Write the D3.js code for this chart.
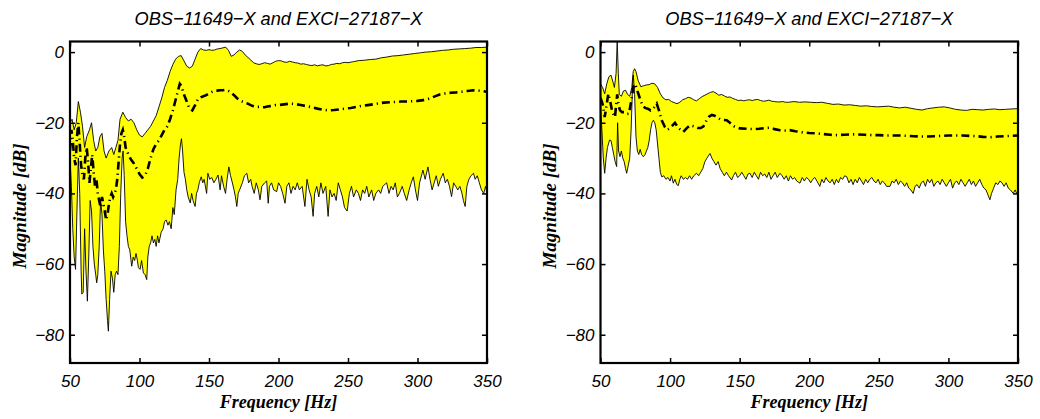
<!DOCTYPE html>
<html><head><meta charset="utf-8">
<script src="https://cdn.jsdelivr.net/npm/d3@7"></script>
<style>
body{margin:0;background:#fff;}
svg{display:block;}
.tick text{font-family:"Liberation Sans",Arial,sans-serif;font-style:italic;font-size:17px;}
</style></head><body>
<svg id="chart" width="1040" height="419"></svg>
<script>
// ---------- data ----------
const titles = ["OBS\u221211649\u2212X and EXCI\u221227187\u2212X", "OBS\u221211649\u2212X and EXCI\u221227187\u2212X"];
const xTicks = [50,100,150,200,250,300,350];
const yTicks = [0,-20,-40,-60,-80];
const xLabel = "Frequency [Hz]";
const yLabel = "Magnitude [dB]";

// Left panel: [frequency Hz, magnitude dB]
const leftUpper = [[50,-20],[51.5,-19],[53,-22],[54.5,-20],[56,-14],[57.5,-17],[59,-21],[60.5,-27],[62,-24],[64,-22],[65.5,-20],[67,-25],[68.5,-28],[70,-27],[71.5,-24],[73,-23],[74.5,-28],[76,-30],[78,-28],[80,-27],[81.5,-29],[83,-27],[84.5,-25],[86,-19],[88,-17],[90,-18.5],[92,-19.5],[94,-19],[96,-20],[98,-22],[100,-23.5],[102,-24],[104,-23],[106,-22],[108,-21],[110,-19.5],[112,-18],[114,-15.5],[116,-13],[118,-10],[120,-8],[122,-5.5],[124,-3.5],[126,-2],[128,-1.2],[130,-1],[132,-2.5],[134,-4],[136,-4.5],[138,-4],[140,-2],[142,0],[144,1],[146,0.6],[148,0.5],[150,0.7],[152,0.5],[154,0.6],[156,0.9],[158,1],[160,1.2],[162,1.4],[164,0.5],[166,-1.2],[168,-0.8],[170,0],[172,0.6],[174,0.2],[176,-0.8],[178,-1.5],[180,-2.2],[182,-3],[184,-3.3],[186,-3.5],[188,-3.3],[190,-3],[192,-3.2],[194,-3.4],[196,-3],[198,-2.6],[200,-2.4],[202,-2.5],[204,-2.8],[206,-2.9],[208,-2.6],[210,-2.8],[212,-3],[214,-3.1],[216,-3.4],[218,-3.3],[220,-3.5],[222,-3.7],[224,-3.8],[226,-3.6],[228,-3.9],[230,-3.7],[232,-3.6],[234,-3.9],[236,-3.8],[238,-3.5],[240,-3.4],[242,-3.2],[244,-3.3],[246,-3.0],[248,-2.9],[250,-3.0],[254,-2.7],[258,-2.4],[262,-2.3],[266,-2.1],[270,-2.0],[274,-1.6],[278,-1.4],[282,-1.1],[286,-1.0],[290,-0.8],[294,-0.6],[298,-0.4],[302,-0.2],[306,0],[310,0.1],[314,0.3],[318,0.5],[322,0.6],[326,0.8],[330,0.9],[334,1.0],[338,1.1],[342,1.3],[346,1.3],[350,1.4]];

const leftLower = [[50,-30],[51,-38],[52,-50],[53,-58],[54,-61.5],[55,-45],[56,-30],[57,-40],[58,-62],[58.5,-68.5],[59.5,-68],[60.5,-50],[61.5,-62],[62.5,-70.5],[63.5,-58],[64.5,-42],[65.5,-45],[66.5,-55],[67.5,-60],[68.5,-63],[69.2,-65.3],[70,-63],[71,-55],[72,-42],[73,-46],[74,-56],[75,-62],[76,-70],[77,-76],[77.6,-79],[78.5,-70],[79.5,-62],[80.5,-64],[81.5,-68],[82.5,-63],[83.5,-62],[84.5,-63],[85.5,-55],[86.5,-40],[87.5,-30],[88.2,-28],[89,-35],[90,-48],[91,-52],[92,-55],[93,-56],[94.4,-60.6],[95.5,-58],[96.5,-59],[97.5,-57],[98.5,-59],[99.2,-61],[100.4,-61.5],[101.5,-59],[102.8,-62.5],[104,-63],[105.2,-64.4],[106,-58],[107,-55],[108,-54],[109,-52],[110,-54],[111,-53],[112,-55],[113,-52],[114,-54],[115.6,-51],[117,-50],[118,-48],[119.2,-47.5],[120.5,-49],[121.5,-48],[122.8,-50],[124,-44],[125,-46],[126.3,-39],[127.5,-36],[128.5,-30],[129.5,-26],[130.2,-24.5],[131,-28],[132,-34],[133,-36],[134,-39],[135,-41],[136.5,-42.7],[137.5,-40],[138.5,-42],[140,-43.7],[141,-40],[142,-39],[143,-37],[144.4,-35.3],[145.5,-37],[146.5,-36],[148.3,-40],[149.2,-34.3],[150.5,-36],[152,-35.5],[153.5,-37],[155,-36],[156.5,-34.8],[158,-39],[159,-35],[160.5,-38],[161.9,-40],[163,-36],[164.3,-32.5],[165.5,-35],[166.5,-36.5],[168,-39],[169,-41],[170,-43.7],[171,-40],[172,-39],[174,-37],[175.5,-35],[177.2,-34.3],[178.5,-37],[180,-36],[181,-38],[182.5,-40],[184,-37],[185.5,-39],[186.7,-41.8],[188,-38],[190,-37],[191.5,-36.5],[192.6,-42.8],[193.5,-38],[195,-37],[196.5,-39],[198.7,-39.5],[200,-37],[201.5,-38],[203,-40],[204.7,-42.8],[206,-38],[207.5,-37],[209,-40],[210.5,-38],[212,-39],[213.5,-37],[215,-39],[217,-38],[219,-43.7],[220.5,-36],[222,-39],[223.5,-41],[224.9,-46.5],[226,-40],[227.5,-38],[229,-41],[230.5,-37],[232,-40],[234,-38],[235.7,-46.5],[237,-39],[238.5,-41],[240,-40],[241.5,-42],[243,-37],[244.5,-39],[246,-41],[247.5,-44],[249.4,-45],[251,-40],[252.5,-38],[254,-41],[256,-39],[257.5,-40],[259,-42],[260.5,-39],[262,-40],[263.5,-38],[265,-41],[267,-39],[268.5,-42],[270,-40],[272,-39],[273.5,-40],[275,-38],[277.8,-37],[279.5,-40],[281,-38],[282.5,-39],[284,-37],[285.5,-41],[287,-40],[289,-38],[290.5,-40],[292.2,-42],[294,-39],[295.5,-37],[297,-35.3],[298.5,-39],[300,-42],[301.5,-37],[303.9,-33.4],[305.5,-36],[307.5,-32.5],[309,-36],[310.5,-39],[312,-37],[313.5,-35],[315,-38],[316.5,-36],[318.5,-34.3],[320,-37],[321.5,-36],[323,-38],[324.5,-40.9],[326,-37],[327.5,-38],[329,-39],[330.5,-38],[332,-40],[333,-42],[334.3,-43.7],[335.5,-38],[337,-36],[338.5,-35],[340.3,-34.3],[341.5,-36],[343,-35],[344.5,-37],[346,-39],[347.6,-40],[349,-38],[350,-40]];

const leftCenter = [[50,-28],[51,-22],[52,-25],[53,-30],[54,-32],[55,-24],[56,-20],[57,-26],[58,-32],[59,-35],[60,-36],[61,-30],[62,-27],[63,-31],[64,-37],[65,-33],[66,-29],[67,-34],[68,-38],[69,-36],[70,-40],[71,-42],[72,-44],[73,-41],[74,-43],[75,-45],[76,-47.5],[77,-46],[78,-43],[79,-41],[80,-40],[81,-41],[82,-40],[83,-39],[84,-36],[85,-31],[86,-26],[87,-23],[88,-22],[89,-24],[90,-27],[92,-29],[94,-30.5],[96,-31.5],[98,-33],[100,-34.5],[102,-35.5],[104,-35],[106,-33],[108,-30],[110,-27.5],[112,-26],[114,-25],[116,-23.5],[118,-22],[120,-21],[122,-19],[124,-16.5],[126,-13.5],[128,-10.5],[129,-9],[130,-9.5],[132,-12],[134,-14],[136,-16],[138,-16.5],[140,-15],[142,-13.3],[144,-12.8],[146,-12.5],[148,-12.2],[150,-11.7],[152,-11.3],[154,-11],[156,-10.9],[158,-10.8],[160,-10.8],[162,-10.7],[164,-11],[166,-11.5],[168,-12.2],[170,-13],[172,-13.6],[174,-14],[176,-14.3],[178,-14.6],[180,-15],[182,-15.3],[184,-15.5],[186,-15.5],[188,-15.6],[190,-15.6],[192,-15.4],[194,-15.3],[196,-15.2],[198,-15],[200,-15],[204,-14.8],[208,-14.6],[212,-14.7],[216,-15],[220,-15.3],[224,-15.6],[228,-16],[232,-16.3],[236,-16.5],[240,-16.4],[244,-16.2],[248,-16],[252,-15.8],[256,-15.5],[260,-15.2],[264,-15],[268,-14.8],[272,-14.5],[276,-14.3],[280,-14.2],[284,-14.1],[288,-14],[292,-14],[296,-13.9],[300,-13.8],[304,-13.6],[308,-13.2],[312,-12.6],[316,-12],[320,-11.7],[324,-11.5],[328,-11.4],[332,-11.2],[336,-11],[340,-10.8],[344,-10.9],[348,-11.1],[350,-11.3]];

// Right panel
const rightUpper = [[50,-9],[51.5,-10],[53,-11.8],[54.5,-9],[56,-7],[57.5,-6.5],[59,-8.5],[60,-10],[61.2,-6],[62,3],[62.8,-6],[63.5,-12],[65,-12.5],[66.5,-11],[68,-10.8],[69.5,-12],[71,-12.5],[72.5,-10],[73.5,-5.5],[74.5,-4.7],[75.5,-5.5],[77,-8],[79,-9.8],[81,-9.5],[83,-9.3],[85,-9.2],[87,-8.8],[89,-9],[91,-10],[93,-11.8],[95,-13],[97,-13.5],[99,-13.4],[101,-14],[103,-14.3],[105,-14.6],[107,-14.2],[109,-13.5],[111,-13.2],[113,-12.8],[115,-13],[117,-13.5],[119,-13.8],[121,-13.2],[123,-12.6],[125,-12.2],[127,-11.8],[129,-11.4],[131,-11.2],[133,-11.6],[135,-12.2],[137,-12],[139,-12.4],[141,-12.8],[143,-12.7],[145,-13.1],[147,-13.4],[149,-13.7],[151,-13.6],[153,-13.8],[155,-13.6],[157,-13.5],[159,-13.7],[161,-13.5],[163,-13.4],[165,-13.7],[167,-13.9],[169,-13.8],[171,-13.6],[173,-13.9],[175,-14],[177,-14.1],[179,-14.1],[181,-14],[183,-14.2],[185,-14.2],[189,-14],[193,-14.2],[197,-14.1],[201,-14.2],[205,-14.3],[209,-14.2],[213,-14.5],[217,-14.8],[221,-14.7],[225,-15],[229,-14.9],[233,-15.1],[237,-15.3],[241,-15.2],[245,-15.4],[249,-15.5],[253,-15.4],[257,-15.3],[261,-15.6],[265,-15.8],[269,-15.6],[273,-15.9],[277,-16.2],[281,-16.4],[285,-16],[289,-15.8],[293,-15.6],[297,-15.5],[301,-15.8],[305,-16.2],[309,-16.4],[313,-16.5],[317,-16.2],[321,-16.3],[325,-16.4],[329,-16.2],[333,-16.1],[337,-16.3],[341,-16.2],[345,-16.1],[350,-16]];

const rightLower = [[50,-15],[51,-22],[52,-30],[53,-34.3],[54,-30],[55,-27],[56.5,-24.9],[57.5,-25],[58.5,-27],[59.5,-29],[60.5,-31],[61.6,-32.4],[62.3,-20],[63,-28],[64,-29.6],[65,-28],[66,-30],[67,-31],[68,-33],[68.8,-34.3],[70,-32],[71,-30],[72,-22],[73,-10],[73.6,-6.5],[74.5,-12],[75.5,-24],[76.5,-28],[77.5,-29],[78.5,-27.5],[79.5,-29],[80.8,-29.6],[82,-29],[83,-28],[84,-27],[85,-25],[86,-22],[87,-20],[88,-19.3],[89,-20],[90,-22],[91,-26],[92,-30],[93,-34],[94,-35.3],[95.5,-35],[97,-36],[98.5,-35.5],[100,-36.5],[101,-35],[102.3,-37.1],[103.5,-36],[104.8,-37.5],[105.9,-37.8],[107,-36],[108,-35],[109.5,-36],[111,-35.5],[112.5,-36],[114,-35],[115.5,-36],[117,-35],[119,-34.3],[120.5,-35],[122,-34],[123.5,-33],[125,-31],[126.5,-30],[128.7,-28.7],[130,-30],[131.5,-31],[133,-32],[134.5,-31],[136,-33],[137.5,-34],[139,-35],[140.5,-34],[142,-35],[144.2,-36.2],[145.5,-35],[147,-34],[148.5,-35.5],[150,-35],[151.5,-34],[153,-35],[154.5,-36],[156,-34.5],[157.4,-34.3],[159,-35.5],[160.5,-34],[162,-35],[163.5,-36],[165,-34],[166.5,-35],[168,-34.5],[169.5,-35.5],[171,-34],[172.5,-36],[174,-35],[175.5,-34],[177,-35.5],[179,-34.3],[180.5,-35],[182,-36],[183.5,-35],[185,-36.5],[186.5,-35],[188,-36],[189.5,-35.5],[191,-36.5],[193.3,-37.1],[195,-35.5],[196.5,-36.5],[198,-35.5],[199.5,-36],[201,-37],[202.5,-36],[204,-35.5],[205.5,-36.5],[207.6,-38],[209,-36],[210.5,-37],[212,-35.5],[213.5,-36.5],[215,-37],[216.5,-36],[218,-37.5],[219.5,-36],[221,-37],[222.5,-35.5],[224,-36],[225.5,-35],[227,-35.3],[228.5,-37],[230,-36],[231.5,-37.5],[233,-36],[234.5,-37],[236,-35.5],[237.5,-36.5],[239,-37.5],[240.5,-36],[242,-37],[243.5,-36],[245,-35.5],[246.5,-36.5],[248,-37],[249.5,-36],[251,-37.5],[252.5,-36.5],[254,-37],[255.5,-38],[258,-38],[259.5,-36.5],[261,-37],[262.5,-36],[264,-37.5],[265.5,-36.5],[267,-37],[268.5,-38],[270,-37],[271.5,-38.5],[273,-39],[274.7,-40],[276,-38],[277.5,-37.5],[279,-38.5],[280.5,-37],[282,-36.5],[283.5,-38],[285,-36],[286.5,-37],[288,-36],[289.5,-38],[291,-37],[292.5,-36.5],[294,-37.5],[295.5,-36],[297,-37],[298.5,-38],[300,-37],[301.5,-36],[303,-38.5],[304.5,-37],[306,-36.5],[307.5,-37.5],[309,-36],[310.5,-37],[312,-38],[313.5,-37],[315,-36],[316.5,-37.5],[318,-36.5],[319.5,-38],[321,-37],[322.5,-36],[324,-37.5],[325.5,-38.5],[327,-39],[328.5,-40.5],[329.8,-41.8],[331,-40],[332.5,-38.5],[334,-37],[335.5,-37.5],[337,-36.5],[338.5,-37],[340,-38],[341.5,-37],[343,-38.5],[344.5,-39],[346.6,-40],[348,-39],[349,-40],[350,-39.5]];

const rightCenter = [[50,-13],[51,-14],[52,-15.5],[53,-18.4],[54,-16],[55.6,-11.8],[57,-14],[58.5,-17],[60.4,-18.4],[61.5,-14],[62,-12],[63,-15],[64,-16.5],[65.5,-17],[67.6,-17],[69,-17.5],[70.5,-17.4],[72,-14],[73.6,-9.9],[75,-9],[76.5,-11],[78.4,-13.2],[80,-15],[82,-15.8],[84,-16],[86,-16.5],[88,-16],[90.4,-14.6],[92,-16.5],[94,-19.3],[96.3,-21.2],[98,-22],[100,-21.5],[103.5,-20],[106,-21.5],[109.5,-22.6],[112,-21.5],[114.3,-20.7],[117,-21],[120,-21.5],[122,-21.5],[124,-21],[126,-19.5],[128,-18.3],[130,-17.8],[132,-18],[134,-18.5],[136,-19],[138,-19.2],[140.7,-19.3],[143,-20],[146,-21],[150.2,-21.6],[155,-21.7],[159.8,-21.8],[164,-21.7],[168,-21.5],[171.8,-21.4],[175,-21.8],[179,-22.1],[183,-22.2],[186,-22.1],[190,-22.4],[195,-22.7],[200,-22.9],[205,-23],[210,-23.2],[215,-23.4],[220,-23.5],[225,-23.4],[230,-23.3],[235,-23.3],[240,-23.4],[245,-23.5],[250,-23.5],[255,-23.6],[260,-23.6],[265,-23.6],[270,-23.7],[275,-23.8],[280,-23.9],[285,-23.9],[290,-23.8],[295,-23.7],[300,-23.6],[305,-23.6],[310,-23.6],[315,-23.7],[320,-23.8],[325,-24],[330,-24.1],[335,-23.9],[340,-23.8],[345,-23.7],[350,-23.6]];

// ---------- drawing ----------
const svg = d3.select("#chart");
const panels = [
  {x0:70, x1:487, upper:leftUpper, lower:leftLower, center:leftCenter, title:titles[0], ylx:26},
  {x0:600.5, x1:1018, upper:rightUpper, lower:rightLower, center:rightCenter, title:titles[1], ylx:556}
];
const plotTop = 41.5, plotBottom = 363;

panels.forEach((p, i) => {
  const x = d3.scaleLinear().domain([50, 350]).range([p.x0, p.x1]);
  const y = d3.scaleLinear().domain([-88, 3]).range([plotBottom, plotTop]);
  const g = svg.append("g");
  const clipId = "clip" + i;
  svg.append("clipPath").attr("id", clipId).append("rect")
    .attr("x", p.x0).attr("y", plotTop).attr("width", p.x1 - p.x0).attr("height", plotBottom - plotTop);
  const line = d3.line().x(d => x(d[0])).y(d => y(d[1]));
  const plot = g.append("g").attr("clip-path", `url(#${clipId})`);
  const poly = p.upper.concat(p.lower.slice().reverse());
  plot.append("path").attr("d", line(poly) + "Z").attr("fill", "#ffff00").attr("stroke", "none");
  plot.append("path").attr("d", line(p.upper)).attr("fill", "none").attr("stroke", "#000").attr("stroke-width", 0.9);
  plot.append("path").attr("d", line(p.lower)).attr("fill", "none").attr("stroke", "#000").attr("stroke-width", 0.9);
  plot.append("path").attr("d", line(p.center)).attr("fill", "none").attr("stroke", "#000")
    .attr("stroke-width", 2.6).attr("stroke-dasharray", "8,4,1.2,4");

  const fmt = d => d < 0 ? "\u2212" + Math.abs(d) : String(d);
  const axB = g.append("g").attr("transform", `translate(0,${plotBottom})`)
    .call(d3.axisBottom(x).tickValues(xTicks).tickSizeInner(-5).tickSizeOuter(0).tickPadding(12).tickFormat(fmt));
  const axT = g.append("g").attr("transform", `translate(0,${plotTop})`)
    .call(d3.axisTop(x).tickValues(xTicks).tickSizeInner(-5).tickSizeOuter(0).tickFormat(""));
  const axL = g.append("g").attr("transform", `translate(${p.x0},0)`)
    .call(d3.axisLeft(y).tickValues(yTicks).tickSizeInner(-5).tickSizeOuter(0).tickPadding(6).tickFormat(fmt));
  const axR = g.append("g").attr("transform", `translate(${p.x1},0)`)
    .call(d3.axisRight(y).tickValues(yTicks).tickSizeInner(-5).tickSizeOuter(0).tickFormat(""));
  [axB, axT, axL, axR].forEach(a => {
    a.select(".domain").remove();
    a.selectAll(".tick line").attr("stroke", "#000").attr("stroke-width", 1.5);
    a.selectAll(".tick text").attr("fill", "#000");
  });
  axB.selectAll(".tick text").attr("dy", "0.71em");
  g.append("rect").attr("x", p.x0).attr("y", plotTop).attr("width", p.x1 - p.x0).attr("height", plotBottom - plotTop)
    .attr("fill", "none").attr("stroke", "#000").attr("stroke-width", 2.2);

  g.append("text").attr("x", (p.x0 + p.x1) / 2).attr("y", 25).attr("text-anchor", "middle")
    .style("font-family", '"Liberation Sans",Arial,sans-serif').style("font-style", "italic").style("font-size", "18.2px")
    .text(p.title);
  g.append("text").attr("x", (p.x0 + p.x1) / 2).attr("y", 408).attr("text-anchor", "middle")
    .style("font-family", '"Liberation Serif","Times New Roman",serif').style("font-style", "italic").style("font-weight", "bold").style("font-size", "18px")
    .text(xLabel);
  g.append("text").attr("transform", `translate(${p.ylx},206) rotate(-90)`).attr("text-anchor", "middle")
    .style("font-family", '"Liberation Serif","Times New Roman",serif').style("font-style", "italic").style("font-weight", "bold").style("font-size", "19px")
    .text(yLabel);
});
</script>
</body></html>
